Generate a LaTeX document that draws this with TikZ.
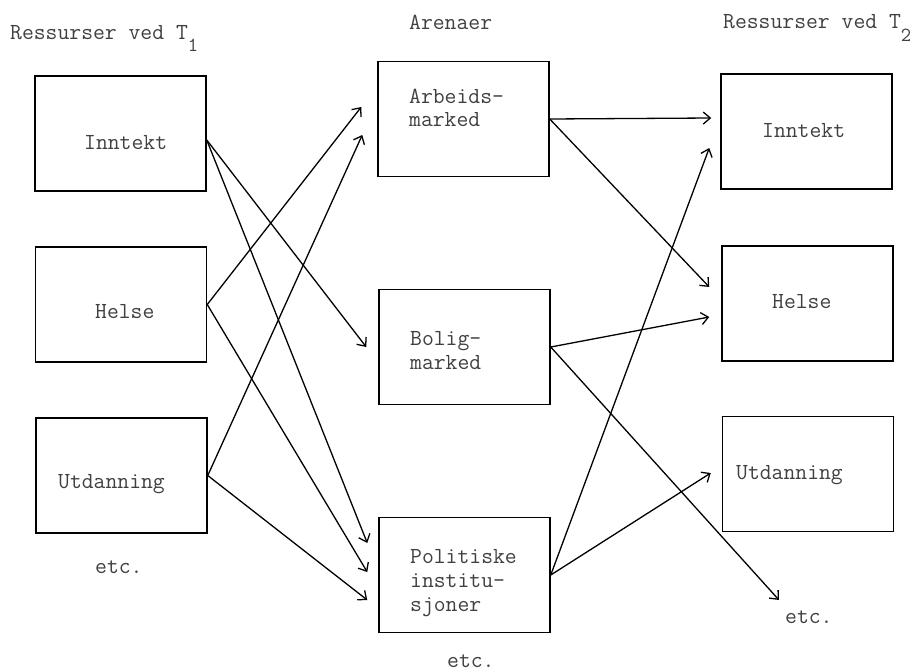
\documentclass[tikz,border=0pt]{standalone}
\usetikzlibrary{arrows.meta}
\begin{document}
\begin{tikzpicture}[x=1pt,y=-1pt,
  box/.style={draw, line width=1.5pt, minimum width=171pt, minimum height=115pt, inner sep=0pt},
  lbl/.style={anchor=base west, inner sep=0pt, font=\ttfamily\fontsize{23}{25}\selectfont, text=black!75},
  conn/.style={line width=1.3pt, -{Straight Barb[length=7pt,width=12pt]}}]
\useasboundingbox (0,0) rectangle (919,672);
% boxes
\node[box] (L1) at (120.5,133.5) {};
\node[box] (L2) at (121,304.5) {};
\node[box] (L3) at (121.5,475.5) {};
\node[box] (M1) at (463.5,119) {};
\node[box] (M2) at (464.5,347) {};
\node[box] (M3) at (464.5,575) {};
\node[box] (R1) at (806.5,131.5) {};
\node[box] (R2) at (807.5,303.5) {};
\node[box] (R3) at (808,474) {};
% titles
\node[lbl] (tL) at (10,39) {Ressurser ved T\raisebox{-12pt}{\fontsize{20}{20}\selectfont 1}};
\node[lbl] (tM) at (409,29) {Arenaer};
\node[lbl] (tR) at (723,28) {Ressurser ved T\raisebox{-13pt}{\fontsize{20}{20}\selectfont 2}};
% texts in boxes
\node[lbl] (xL1) at (84,149) {Inntekt};
\node[lbl] (xL2) at (95,318) {Helse};
\node[lbl] (xL3) at (58,488) {Utdanning};
\node[lbl] (xM1a) at (409,103) {Arbeids-};
\node[lbl] (xM1b) at (409,126) {marked};
\node[lbl] (xM2a) at (410,345) {Bolig-};
\node[lbl] (xM2b) at (410,369) {marked};
\node[lbl] (xM3a) at (410,563) {Politiske};
\node[lbl] (xM3b) at (410,587) {institu-};
\node[lbl] (xM3c) at (410,611) {sjoner};
\node[lbl] (xR1) at (762,137) {Inntekt};
\node[lbl] (xR2) at (772,308) {Helse};
\node[lbl] (xR3) at (736,479) {Utdanning};
% etc.
\node[lbl] (etcL) at (95,573) {etc.};
\node[lbl] (etcM) at (447,667) {etc.};
\node[lbl] (etcR) at (785,623) {etc.};
% connectors
\draw[conn] ([yshift=-6.5pt]L1.east) -- ([xshift=-12pt]M2.west);
\draw[conn] ([yshift=-6.5pt]L1.east) -- ([xshift=-11pt,yshift=32pt]M3.west);
\draw[conn] (L2.east) -- ([xshift=-16pt,yshift=12pt]M1.west);
\draw[conn] (L2.east) -- ([xshift=-11pt,yshift=3pt]M3.west);
\draw[conn] (L3.east) -- ([xshift=-15pt,yshift=-16pt]M1.west);
\draw[conn] (L3.east) -- ([xshift=-11pt,yshift=-25pt]M3.west);
\draw[conn] (M1.east) -- ([xshift=-9pt,yshift=13.5pt]R1.west);
\draw[conn] (M1.east) -- ([xshift=-12pt,yshift=16.5pt]R2.west);
\draw[conn] (M2.east) -- ([xshift=-12pt,yshift=-13.5pt]R2.west);
\draw[conn] (M2.east) -- ([xshift=-6pt,yshift=23pt]etcR.base west);
\draw[conn] (M3.east) -- ([xshift=-11pt,yshift=-16.5pt]R1.west);
\draw[conn] (M3.east) -- ([xshift=-11pt,yshift=1pt]R3.west);
\end{tikzpicture}
\end{document}
